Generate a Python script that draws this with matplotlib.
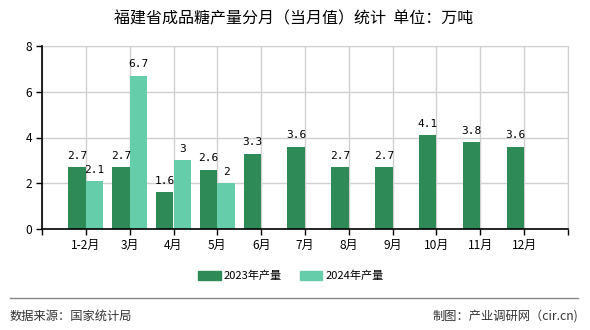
"""Fujian monthly refined sugar output, 2023 vs 2024."""

import matplotlib
matplotlib.use("Agg")
import matplotlib.pyplot as plt
from matplotlib.lines import Line2D

plt.rcParams["font.family"] = ["Noto Sans CJK SC", "DejaVu Sans"]

months = ["1-2月", "3月", "4月", "5月", "6月", "7月", "8月", "9月", "10月", "11月", "12月"]
output_2023 = [2.7, 2.7, 1.6, 2.6, 3.3, 3.6, 2.7, 2.7, 4.1, 3.8, 3.6]
output_2024 = [2.1, 6.7, 3, 2]
labels_2023 = ["2.7", "2.7", "1.6", "2.6", "3.3", "3.6", "2.7", "2.7", "4.1", "3.8", "3.6"]
labels_2024 = ["2.1", "6.7", "3", "2"]

DARK = "#2E8B57"
LIGHT = "#66CDAA"
W = 0.4

fig = plt.figure(figsize=(5.9, 3.3), dpi=100)
ax = fig.add_axes([42 / 590, 101 / 330, 526 / 590, 183 / 330])

x23 = list(range(len(output_2023)))
x24 = list(range(len(output_2024)))
ax.bar([x - W / 2 for x in x23], output_2023, width=W, color=DARK, zorder=3)
ax.bar([x + W / 2 for x in x24], output_2024, width=W, color=LIGHT, zorder=3)

for x, v, t in zip(x23, output_2023, labels_2023):
    ax.annotate(t, (x - W / 2, v), xytext=(0, 4.5), textcoords="offset points",
                ha="center", va="bottom", fontsize=8, family="DejaVu Sans Mono")
for x, v, t in zip(x24, output_2024, labels_2024):
    ax.annotate(t, (x + W / 2, v), xytext=(0, 4.5), textcoords="offset points",
                ha="center", va="bottom", fontsize=8, family="DejaVu Sans Mono")

ax.set_xlim(-1, 11)
ax.set_ylim(0, 8)
ax.set_yticks([0, 2, 4, 6, 8])
ax.set_xticks(range(-1, 12))
ax.set_xticklabels([""] + months + [""])
ax.tick_params(axis="both", labelsize=8.6, length=4, width=1, color="black", pad=3)
ax.grid(True, color="#d0d0d0", linewidth=1, zorder=0)
for side in ["top", "right"]:
    ax.spines[side].set_color("#d0d0d0")
for side in ["left", "bottom"]:
    ax.spines[side].set_color("black")
    ax.spines[side].set_linewidth(1.2)
    ax.spines[side].set_zorder(4)

fig.text(294 / 590, 1 - 19 / 330, "福建省成品糖产量分月（当月值）统计  单位：万吨",
         ha="center", va="center", fontsize=11.5)

handles = [plt.Rectangle((0, 0), 1, 1, color=DARK), plt.Rectangle((0, 0), 1, 1, color=LIGHT)]
fig.legend(handles, ["2023年产量", "2024年产量"], loc="center", bbox_to_anchor=(291 / 590, 1 - 276 / 330),
           ncol=2, frameon=False, fontsize=8, handlelength=2.0, handleheight=0.8,
           columnspacing=1.6, handletextpad=0.3)

fig.add_artist(Line2D([10 / 590, 578 / 590], [1 - 298 / 330] * 2, color="#888888", linewidth=1))
fig.text(10 / 590, 1 - 316 / 330, "数据来源：国家统计局", ha="left", va="center", fontsize=8.8, color="#333333")
fig.text(578 / 590, 1 - 316 / 330, "制图：产业调研网（cir.cn)", ha="right", va="center", fontsize=8.8, color="#333333")

fig.savefig("out.png", dpi=100)
